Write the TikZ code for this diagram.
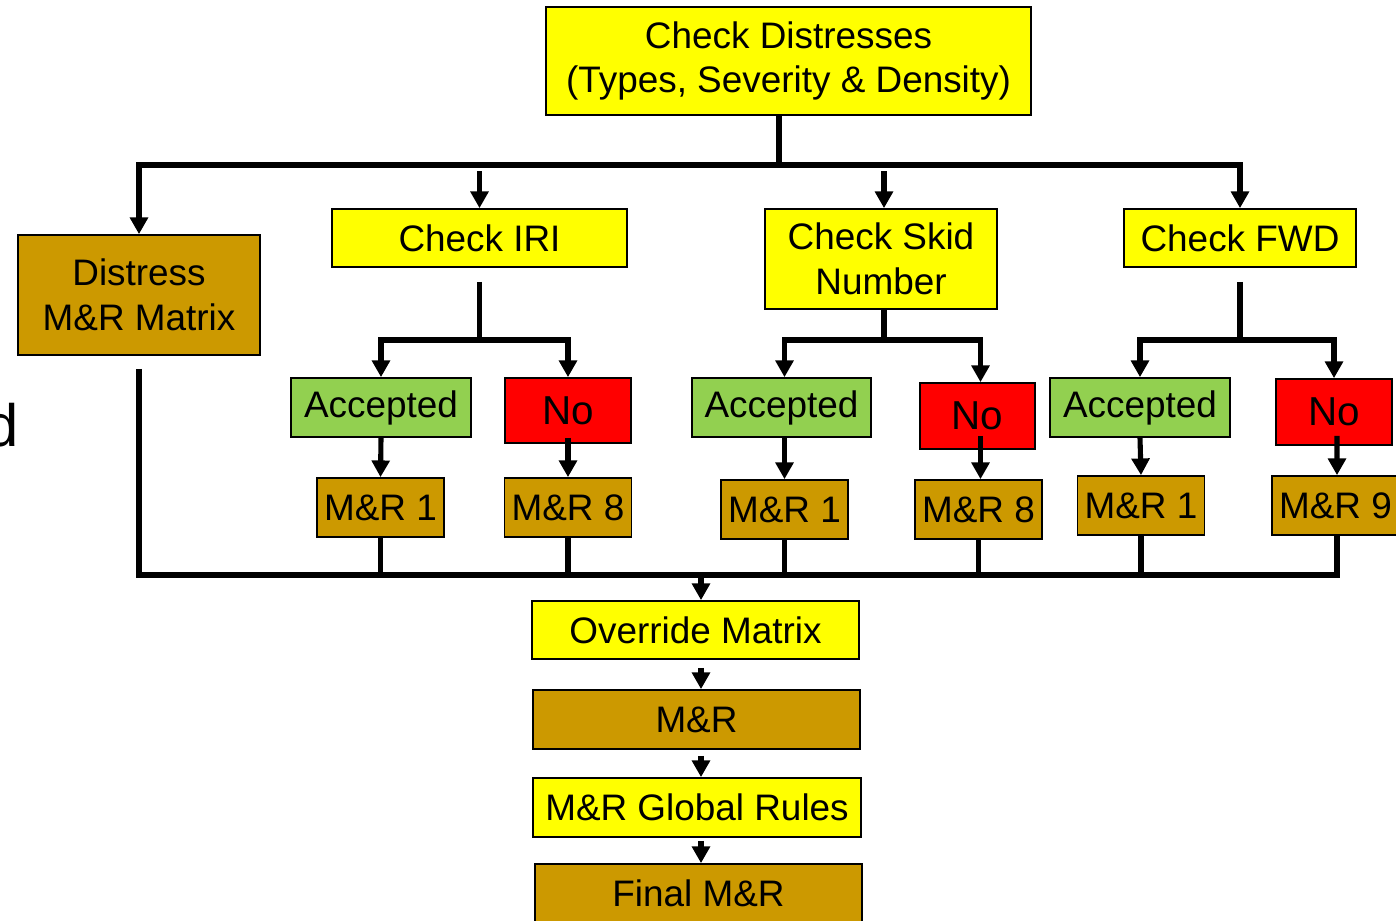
\documentclass[tikz,border=0pt]{standalone}
\usepackage{fontspec}
\setmainfont{Liberation Sans}
\usetikzlibrary{arrows.meta,calc}
\definecolor{boxyellow}{HTML}{FFFF00}
\definecolor{boxbrown}{HTML}{CC9900}
\definecolor{boxgreen}{HTML}{92D050}
\definecolor{boxred}{HTML}{FF0000}

\begin{document}
\begin{tikzpicture}[x=0.02cm,y=-0.02cm,
    box/.style={draw=black,line width=1pt,inner sep=2pt,align=center,font=\fontsize{21}{25.5}\selectfont},
    yellowbox/.style={box,fill=boxyellow},
    brownbox/.style={box,fill=boxbrown},
    okbox/.style={box,fill=boxgreen,minimum width=3.6cm,minimum height=1.18cm},
    nobox/.style={box,fill=boxred,font=\fontsize{23}{27}\selectfont},
    mrbox/.style={brownbox,minimum width=2.54cm,minimum height=1.18cm},
    wire/.style={line width=2.9pt},
    arr/.style={wire,-{Triangle[width=10pt,length=9.5pt]}}]
    \useasboundingbox (0,0) rectangle (1396,920);

    \node[anchor=base east,inner sep=0pt,font=\fontsize{34}{40}\selectfont] (cut) at (19,446) {d};

    \node[yellowbox,minimum width=9.70cm,minimum height=2.16cm] (check) at (788.5,61)
        {Check Distresses\\(Types, Severity \& Density)};
    \node[brownbox,minimum width=4.84cm,minimum height=2.40cm] (dmat) at (139,295)
        {Distress\\M\&R Matrix};
    \node[yellowbox,minimum width=5.90cm,minimum height=1.16cm] (iri) at (479.5,238) {Check IRI};
    \node[yellowbox,minimum width=4.64cm,minimum height=2.00cm] (skid) at (881,259) {Check Skid\\Number};
    \node[yellowbox,minimum width=4.64cm,minimum height=1.16cm] (fwd) at (1240,238) {Check FWD};

    \node[okbox] (ok1) at (381,407.5) {Accepted};
    \node[nobox,minimum width=2.52cm,minimum height=1.30cm] (no1) at (568,410.5) {No};
    \node[mrbox] (mr11) at (380.5,507.5) {M\&R 1};
    \node[mrbox] (mr18) at (568,507.5) {M\&R 8};

    \node[okbox,minimum width=3.58cm] (ok2) at (781.5,407.5) {Accepted};
    \node[nobox,minimum width=2.30cm,minimum height=1.32cm] (no2) at (977.5,416) {No};
    \node[mrbox] (mr21) at (784.5,509.5) {M\&R 1};
    \node[mrbox] (mr28) at (978.5,509.5) {M\&R 8};

    \node[okbox] (ok3) at (1140,407.5) {Accepted};
    \node[nobox,minimum width=2.32cm,minimum height=1.32cm] (no3) at (1334,412) {No};
    \node[mrbox] (mr31) at (1141,505.5) {M\&R 1};
    \node[mrbox] (mr39) at (1335.5,505.5) {M\&R 9};

    \node[yellowbox,minimum width=6.54cm,minimum height=1.16cm] (ovr) at (695.5,630) {Override Matrix};
    \node[brownbox,minimum width=6.54cm,minimum height=1.18cm] (mr) at (696.5,719.5) {M\&R};
    \node[yellowbox,minimum width=6.56cm,minimum height=1.18cm] (glob) at (697,807.5) {M\&R Global Rules};
    \node[brownbox,minimum width=6.54cm,minimum height=1.18cm] (final) at (698.5,893.5) {Final M\&R};

    \coordinate (topbus) at (779,165);
    \coordinate (split) at (0,340);
    \coordinate (botbus) at (0,575);
    \coordinate (spine) at (701,0);

    \draw[wire] (check.south -| topbus) -- (topbus);
    \draw[arr] (topbus) -| (dmat.north);
    \draw[arr] (topbus) -| (fwd.north);
    \draw[arr,shorten <=0.12cm] (iri.north |- topbus) -- (iri.north);
    \draw[arr,shorten <=0.12cm] ($(skid.north |- topbus)+(3,0)$) -- ($(skid.north)+(3,0)$);

    \draw[wire,shorten <=0.28cm] (iri.south) -- (iri.south |- split);
    \draw[arr] (iri.south |- split) -| (ok1.north);
    \draw[arr] (iri.south |- split) -| (no1.north);
    \draw[wire] ($(skid.south)+(3,0)$) -- ($(skid.south |- split)+(3,0)$);
    \draw[arr] ($(skid.south |- split)+(3,0)$) -| ($(ok2.north)+(3,0)$);
    \draw[arr] ($(skid.south |- split)+(3,0)$) -| ($(no2.north)+(3,0)$);
    \draw[wire,shorten <=0.28cm] (fwd.south) -- (fwd.south |- split);
    \draw[arr] (fwd.south |- split) -| (ok3.north);
    \draw[arr] (fwd.south |- split) -| (no3.north);

    \draw[arr] (ok1.south) -- (mr11.north);
    \draw[arr,shorten <=-0.12cm] (no1.south) -- (mr18.north);
    \draw[arr] ($(ok2.south)+(3,0)$) -- ($(mr21.north)+(0,0)$);
    \draw[arr,shorten <=-0.28cm] ($(no2.south)+(3,0)$) -- ($(mr28.north)+(2,0)$);
    \draw[arr] (ok3.south) -- (mr31.north);
    \draw[arr,shorten <=-0.2cm] ($(no3.south)+(3,0)$) -- ($(mr39.north)+(1.5,0)$);

    \draw[wire,shorten <=0.26cm] (dmat.south) |- ($(mr39.south |- botbus)+(1.5,0)$) -- ($(mr39.south)+(1.5,0)$);
    \foreach \n in {mr11,mr18,mr21,mr28,mr31}
        \draw[wire] (\n.south) -- (\n.south |- botbus);

    \draw[arr,shorten <=0.06cm] (spine |- botbus) -- (spine |- ovr.north);
    \draw[arr,shorten <=0.16cm] (spine |- ovr.south) -- (spine |- mr.north);
    \draw[arr,shorten <=0.12cm] (spine |- mr.south) -- (spine |- glob.north);
    \draw[arr,shorten <=0.06cm] (spine |- glob.south) -- (spine |- final.north);
\end{tikzpicture}
\end{document}
